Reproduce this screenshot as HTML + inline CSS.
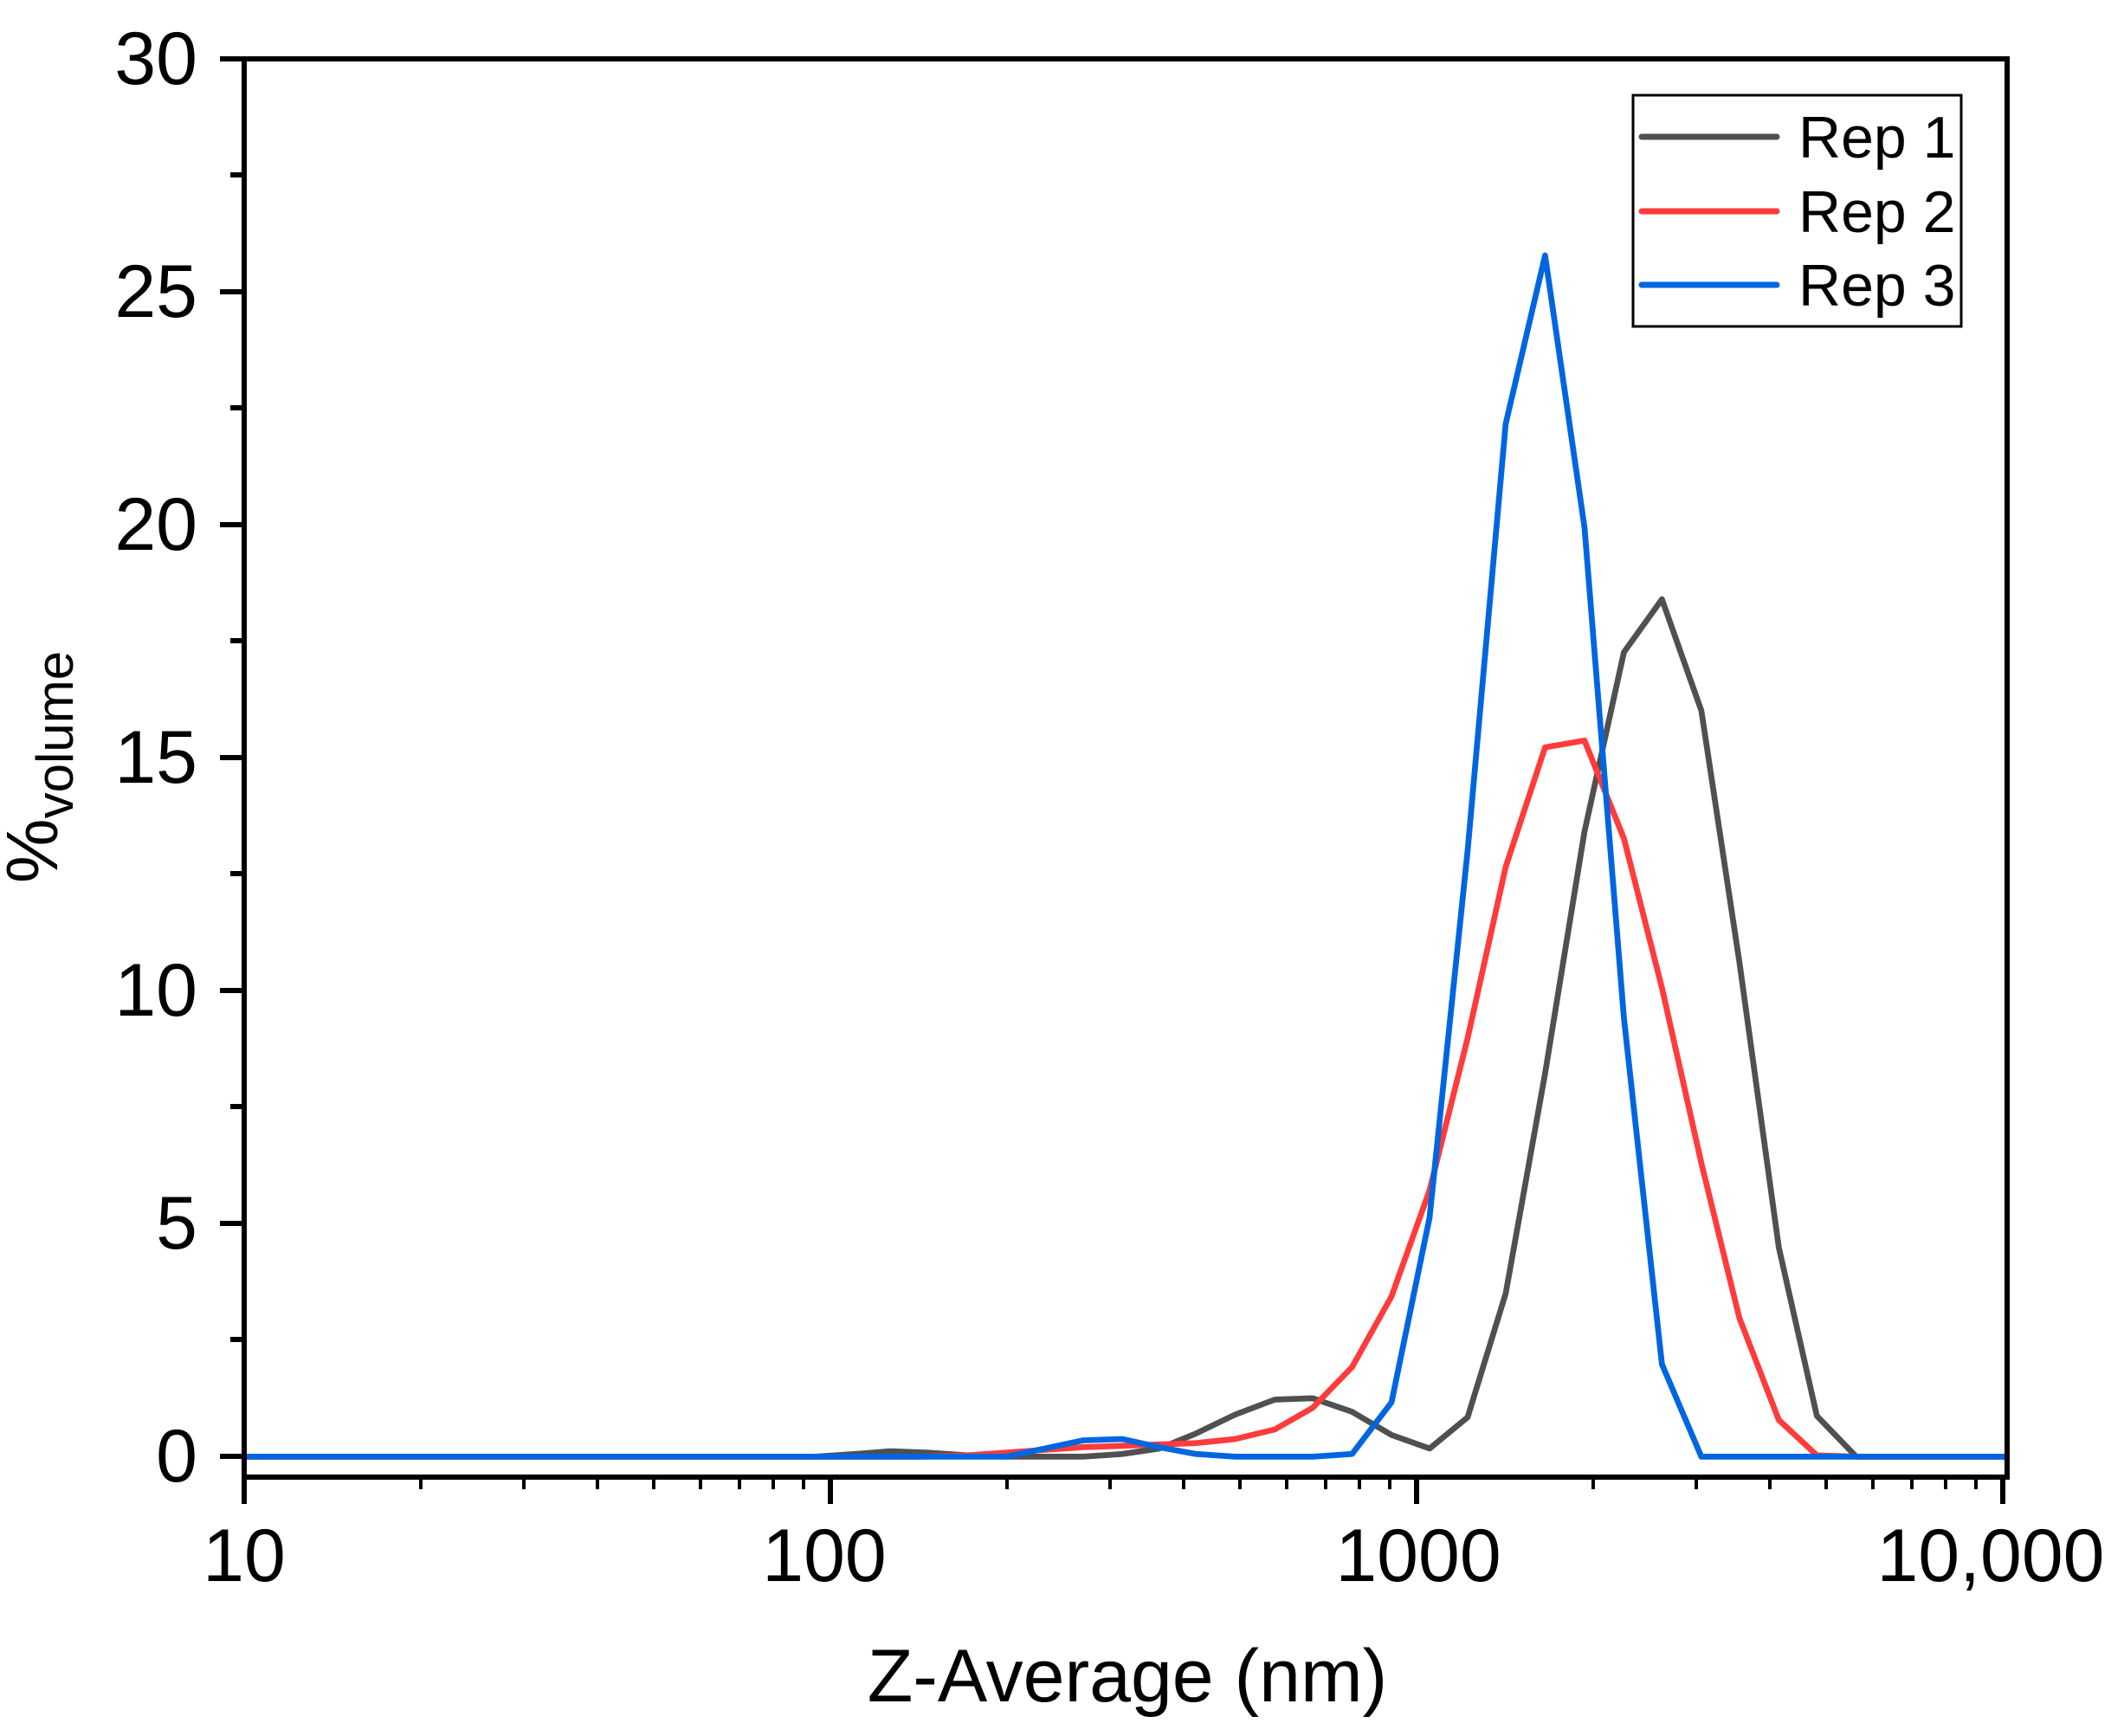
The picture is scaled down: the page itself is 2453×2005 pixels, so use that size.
<!DOCTYPE html>
<html><head><meta charset="utf-8"><style>html,body{margin:0;padding:0;background:#fff}svg{display:block}</style></head>
<body>
<svg width="2453" height="2005" viewBox="0 0 2453 2005" xmlns="http://www.w3.org/2000/svg" font-family="'Liberation Sans', Arial, sans-serif">
<rect width="2453" height="2005" fill="#fff"/>
<g transform="scale(1.5694)" fill="none" stroke-width="4.3" stroke-linejoin="round">
<polyline stroke="#505050" points="180,1072 600,1072 630,1070 655,1068 683,1069 712,1071 740,1072 769,1072 797,1072 826,1070 853,1066 880,1055 909,1041 938,1030 966,1029 995,1039 1024,1056 1052,1066 1080,1043 1108,952 1137,790 1166,612 1195,480 1223,441 1252,523 1280,708 1309,918 1337,1042 1366,1072 1477,1072"/>
<polyline stroke="#ff3b3b" points="180,1072 680,1072 712,1071 740,1069 769,1067 797,1065 826,1064 853,1063 880,1062 909,1059 938,1052 966,1036 995,1006 1024,954 1052,876 1080,764 1108,638 1137,550 1166,545 1195,617 1223,727 1252,856 1280,970 1309,1045 1337,1071 1366,1072 1477,1072"/>
<polyline stroke="#0066e0" points="180,1072 740,1072 769,1066 797,1060 826,1059 853,1065 880,1070 909,1072 938,1072 966,1072 995,1070 1024,1032 1052,896 1080,626 1108,312 1137,188 1166,388 1195,749 1223,1004 1252,1072 1477,1072"/>
</g>
<g stroke="#000" stroke-width="6" fill="none">
<rect x="282" y="68" width="2036" height="1638"/>
<path d="M254 68H282M254 337H282M254 606H282M254 875H282M254 1144H282M254 1413H282M254 1682H282"/>
<path d="M266 202H282M266 471H282M266 740H282M266 1009H282M266 1278H282M266 1547H282"/>
<path d="M282 1706V1737M959 1706V1737M1636 1706V1737M2313 1706V1737"/>
<path stroke-width="4" d="M486 1706V1720M605 1706V1720M690 1706V1720M755 1706V1720M809 1706V1720M854 1706V1720M893 1706V1720M928 1706V1720M1163 1706V1720M1282 1706V1720M1367 1706V1720M1432 1706V1720M1486 1706V1720M1531 1706V1720M1570 1706V1720M1605 1706V1720M1840 1706V1720M1959 1706V1720M2044 1706V1720M2109 1706V1720M2163 1706V1720M2208 1706V1720M2247 1706V1720M2282 1706V1720"/>
</g>
<g font-size="86" fill="#000" text-anchor="end">
<text x="228" y="97">30</text><text x="228" y="366">25</text><text x="228" y="635">20</text><text x="228" y="904">15</text><text x="228" y="1173">10</text><text x="228" y="1442">5</text><text x="228" y="1711">0</text>
</g>
<g font-size="86" fill="#000" text-anchor="middle">
<text x="282" y="1826">10</text><text x="952" y="1826">100</text><text x="1638" y="1826">1000</text><text x="2299" y="1826">10,000</text>
<text x="1302" y="1965">Z-Average (nm)</text>
</g>
<text transform="translate(66,886) rotate(-90)" font-size="84" text-anchor="middle" fill="#000">%<tspan font-size="60" dy="18">volume</tspan></text>
<rect x="1886" y="110" width="379" height="267" fill="#fff" stroke="#000" stroke-width="3"/>
<g stroke-width="7" stroke-linecap="round">
<line x1="1896" y1="158" x2="2052" y2="158" stroke="#505050"/>
<line x1="1896" y1="244" x2="2052" y2="244" stroke="#ff3b3b"/>
<line x1="1896" y1="329" x2="2052" y2="329" stroke="#0066e0"/>
</g>
<g font-size="68" fill="#000">
<text x="2077" y="182">Rep 1</text><text x="2077" y="268">Rep 2</text><text x="2077" y="353">Rep 3</text>
</g>
</svg>
</body></html>
